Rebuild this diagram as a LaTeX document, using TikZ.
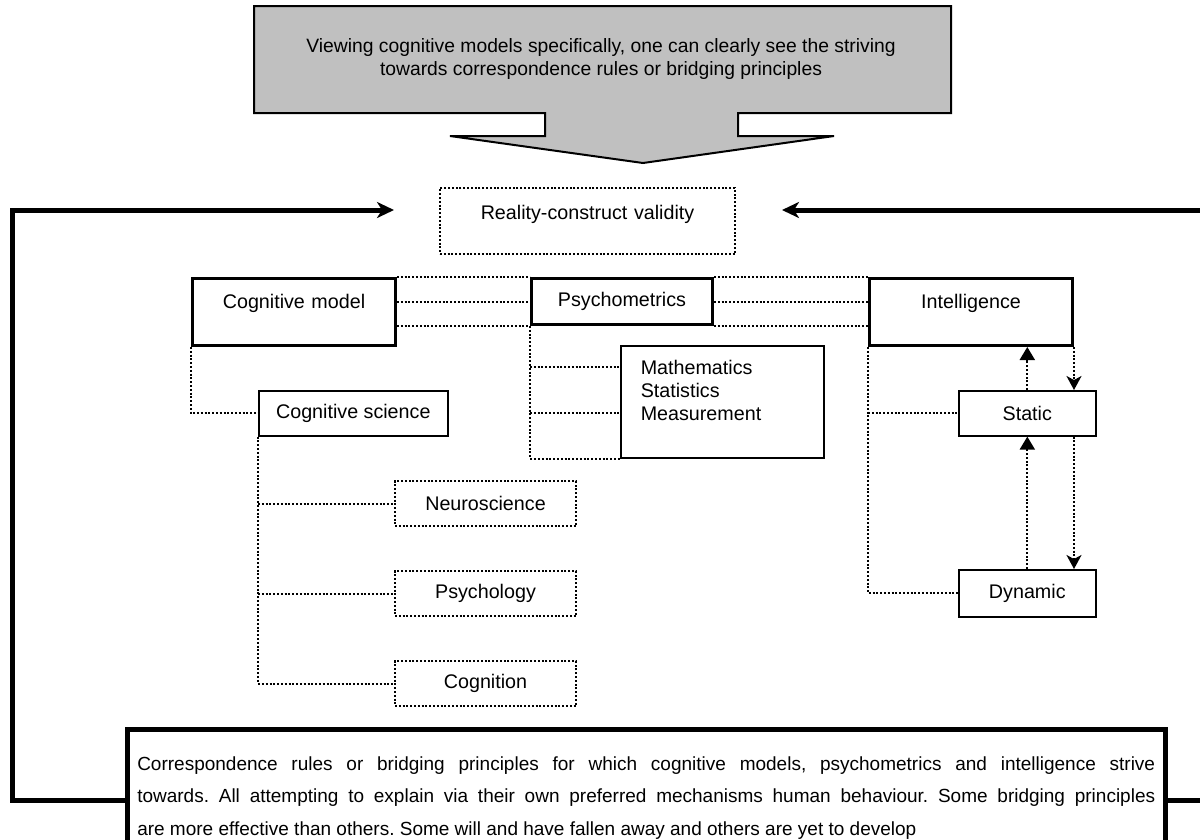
\documentclass[tikz,border=0pt]{standalone}
\usepackage{fontspec}
\setmainfont{Liberation Sans}
\usetikzlibrary{arrows.meta}
\begin{document}
\frenchspacing
\begin{tikzpicture}[x=1pt,y=-1pt,
  lbl/.style={font=\fontsize{19.7}{23}\selectfont},
  thickbox/.style={draw,line width=3pt,fill=white,inner sep=0pt,anchor=north west,lbl},
  thinbox/.style={draw,line width=1.6pt,fill=white,inner sep=0pt,anchor=north west,lbl},
  dotbox/.style={draw,line width=2pt,dash pattern=on 2pt off 1.8pt,inner sep=0pt,anchor=north west,lbl},
  conn/.style={line width=2pt,dash pattern=on 2pt off 1.8pt},
  uparr/.style={conn,-{Triangle[length=13pt,width=15pt]}},
  downarr/.style={conn,-{Stealth[length=14pt,width=15pt,inset=4pt]}},
  big/.style={line width=5pt},
  bigarr/.style={big,-{Stealth[length=17pt,width=16pt,inset=5pt]}}
]
\useasboundingbox (0,0) rectangle (1200,839);

% banner arrow at the top
\draw[line width=2pt,fill={rgb,255:red,192;green,192;blue,192}]
  (254,6) -- (951,6) -- (951,113) -- (738,113) -- (738,136) -- (834,136)
  -- (643,163) -- (450,136) -- (545,136) -- (545,113) -- (254,113) -- cycle;
\node[font=\fontsize{19.3}{23}\selectfont,align=center] (msg) at (601,59)
  {Viewing cognitive models specifically, one can clearly see the striving\\towards correspondence rules or bridging principles};

% main boxes
\node[dotbox,text width=295pt,align=center,text height=31.5pt,text depth=34.5pt] (real) at (439,187) {Reality-construct validity};
\node[thickbox,text width=203pt,align=center,text height=29.5pt,text depth=37.5pt] (cogm) at (191,277) {Cognitive model};
\node[thickbox,minimum width=181pt,minimum height=46pt] (psych) at (530,277) {Psychometrics};
\node[thickbox,text width=203pt,align=center,text height=29.5pt,text depth=37.5pt] (intel) at (868,277) {Intelligence};
\node[thinbox,inner xsep=20pt,text width=163pt,align=left,text height=28.5pt,text depth=83.5pt] (math) at (620,345) {Mathematics\\Statistics\\Measurement};
\node[thinbox,minimum width=189pt,minimum height=45pt] (cogsci) at (258,390) {Cognitive science};
\node[thinbox,minimum width=137pt,minimum height=45pt] (static) at (958,390) {Static};
\node[thinbox,minimum width=137pt,minimum height=47pt] (dyn) at (958,569) {Dynamic};
\node[dotbox,minimum width=181pt,minimum height=45pt] (neuro) at (394,480) {Neuroscience};
\node[dotbox,minimum width=181pt,minimum height=45pt] (psy) at (394,570) {Psychology};
\node[dotbox,minimum width=181pt,minimum height=45pt] (cogn) at (394,660) {Cognition};
\node[draw,line width=4.5pt,fill=white,anchor=north west,inner xsep=10pt,inner ysep=0pt,
  text width=1018pt,align=justify,text height=41pt,text depth=84pt,
  font=\fontsize{19}{32.5}\selectfont] (bot) at (125,727)
  {Correspondence rules or bridging principles for which cognitive models, psychometrics and intelligence strive\linebreak
   towards. All attempting to explain via their own preferred mechanisms human behaviour. Some bridging principles\linebreak
   are more effective than others. Some will and have fallen away and others are yet to develop};

% dotted links between the three main boxes
\draw[conn] (cogm.north east) -- (psych.north west);
\draw[conn] (psych.west -| cogm.east) -- (psych.west);
\draw[conn] (psych.south west -| cogm.east) -- (psych.south west);
\draw[conn] (psych.north east) -- (psych.north east -| intel.west);
\draw[conn] (psych.east) -- (psych.east -| intel.west);
\draw[conn] (psych.south east) -- (psych.south east -| intel.west);

% cognitive model branch
\draw[conn] (cogm.south west) |- (cogsci.west);
\draw[conn] (cogsci.south west) |- (cogn.west);
\draw[conn] (cogsci.south west |- neuro.west) -- (neuro.west);
\draw[conn] (cogsci.south west |- psy.west) -- (psy.west);

% psychometrics branch
\coordinate (m1) at (620,367);
\coordinate (m2) at (620,413);
\draw[conn] (psych.south west) |- (math.south west);
\draw[conn] (psych.south west |- m1) -- (m1);
\draw[conn] (psych.south west |- m2) -- (m2);

% intelligence branch
\draw[conn] (intel.south west) |- (dyn.west);
\draw[conn] (intel.south west |- static.west) -- (static.west);
\draw[uparr] (static.north) -- (static.north |- intel.south);
\draw[downarr] (intel.south east) -- (intel.south east |- static.north);
\draw[downarr] (intel.south east |- static.south) -- (intel.south east |- dyn.north);
\draw[uparr] (dyn.north) -- (dyn.north |- static.south);

% feedback loops from the bottom box
\coordinate (lt) at (12,210);
\coordinate (lb) at (12,800);
\coordinate (rt) at (1200,210);
\coordinate (rb) at (1200,800);
\draw[bigarr,shorten >=45pt] (bot.west |- lb) -- (lb) -- (lt) -- (lt -| real.west);
\draw[bigarr,shorten >=46pt] (rt) -- (rt -| real.east);
\draw[big] (bot.east |- rb) -- (rb);
\end{tikzpicture}
\end{document}
